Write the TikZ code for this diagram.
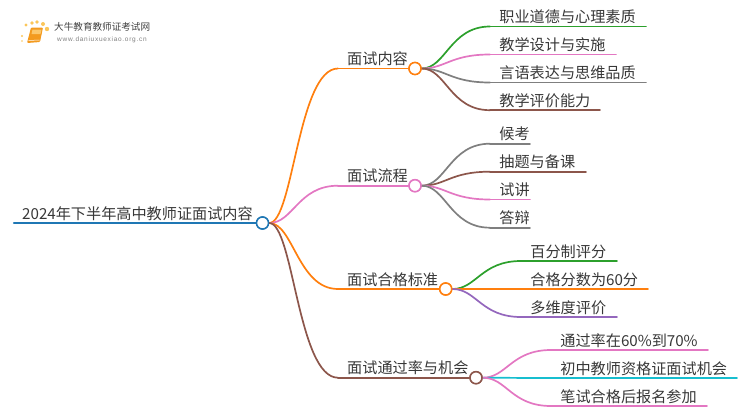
\documentclass[tikz,border=0pt]{standalone}
\usepackage{fontspec}
\setmainfont{Noto Sans CJK SC}
\newfontfamily\latinf[LetterSpace=11]{Liberation Sans}
\definecolor{cblue}{HTML}{1F77B4}
\definecolor{corange}{HTML}{FF7F0E}
\definecolor{cgreen}{HTML}{2CA02C}
\definecolor{cpink}{HTML}{E377C2}
\definecolor{cgray}{HTML}{7F7F7F}
\definecolor{cbrown}{HTML}{8C564B}
\definecolor{cpurple}{HTML}{9467BD}
\definecolor{ccyan}{HTML}{17BECF}
\definecolor{logodot}{HTML}{FBC65A}
\definecolor{logobook}{HTML}{F39A1E}
\definecolor{logopage}{HTML}{FBC76B}
\usetikzlibrary{calc}
\tikzset{
  x=1pt,y=-1pt,
  label/.style={anchor=base west,inner sep=0pt,font=\fontsize{15.15}{15}\selectfont,text=black!78},
  dot/.style={circle,draw=#1,fill=white,line width=1.5pt,minimum size=12pt,inner sep=0pt},
  wire/.style={draw=#1,line width=1.7pt,line cap=round},
  curvy/.style={wire=#1,to path={.. controls ($(\tikztostart)+(24,0)$) and ($(\tikztotarget)+(-40,0)$) .. (\tikztotarget)}}
}
\begin{document}
\begin{tikzpicture}
\useasboundingbox (0,0) rectangle (750,410);
% logo
\foreach \a/\b/\r in {22/41/.8,22/36/1.2,26/25/1.6,32/23/1.8,37/22/1.9,43/24/2,47/29/2.2}
  \fill[logodot] (\a,\b) circle[radius=\r];
\fill[logobook,rounded corners=1pt] (31,27.5)--(43,27.5)--(40,42)--(27,43)--cycle;
\fill[logopage] (32.5,29.5)--(41.5,29.5)--(40.5,34)--(31.5,34)--cycle;
\draw[white,line width=.5pt] (28.5,40.5)--(39.5,40);
\node[anchor=west,inner sep=0pt,font=\fontsize{9.6}{10}\selectfont,text=black!75] (logoa) at (54,27) {大牛教育教师证考试网};
\node[anchor=west,inner sep=0pt,font=\latinf\fontsize{6.5}{7}\selectfont,text=black!50] (logob) at (57,39.5) {www.daniuxuexiao.org.cn};
% root
\coordinate (rs) at (14,223);
\node[dot=cblue] (root) at (262.5,223) {};
\draw[wire=cblue,line width=2.2pt] (rs) -- (root);
\node[label] (roott) at (22,219) {2024年下半年高中教师证面试内容};
% level 1
\foreach \n/\x/\y/\c/\t in {
  a/415/68.5/corange/面试内容,
  b/415/185.7/cpink/面试流程,
  c/445.7/289/corange/面试合格标准,
  d/476/377.7/cbrown/面试通过率与机会}{
  \coordinate (\n s) at (338,\y);
  \node[dot=\c] (\n) at (\x,\y) {};
  \draw[curvy=\c] (root.east) to (\n s);
  \draw[wire=\c] (\n s) -- (\n);
  \node[label] (\n t) at (347,\y-4) {\t};
}
\node[dot=cblue] at (root) {};
% level 2
\foreach \p/\n/\sx/\ex/\y/\c/\t in {
  a/a1/490/646/26.5/cgreen/职业道德与心理素质,
  a/a2/490/616/54.5/cpink/教学设计与实施,
  a/a3/490/646/82.5/cgray/言语表达与思维品质,
  a/a4/490/600/110.2/cbrown/教学评价能力,
  b/b1/490/530/143.7/cgray/候考,
  b/b2/490/586/171.7/cbrown/抽题与备课,
  b/b3/490/530/199.5/cpink/试讲,
  b/b4/490/530/227.7/cgray/答辩,
  c/c1/521/617/261/cgreen/百分制评分,
  c/c2/521/648/289/corange/合格分数为60分,
  c/c3/521/617/317/cpurple/多维度评价,
  d/d1/551/708/350/cpink/通过率在60\%到70\%,
  d/d2/551/737/378/ccyan/初中教师资格证面试机会,
  d/d3/551/707/406/cpink/笔试合格后报名参加}{
  \coordinate (\n s) at (\sx,\y);
  \coordinate (\n e) at (\ex,\y);
  \draw[curvy=\c] (\p.east) to (\n s);
  \draw[wire=\c] (\n s) -- (\n e);
  \node[label] (\n t) at (\sx+9.2,\y-4) {\t};
}
\foreach \n/\c in {a/corange,b/cpink,c/corange,d/cbrown}{\node[dot=\c] at (\n) {};}
\end{tikzpicture}
\end{document}
